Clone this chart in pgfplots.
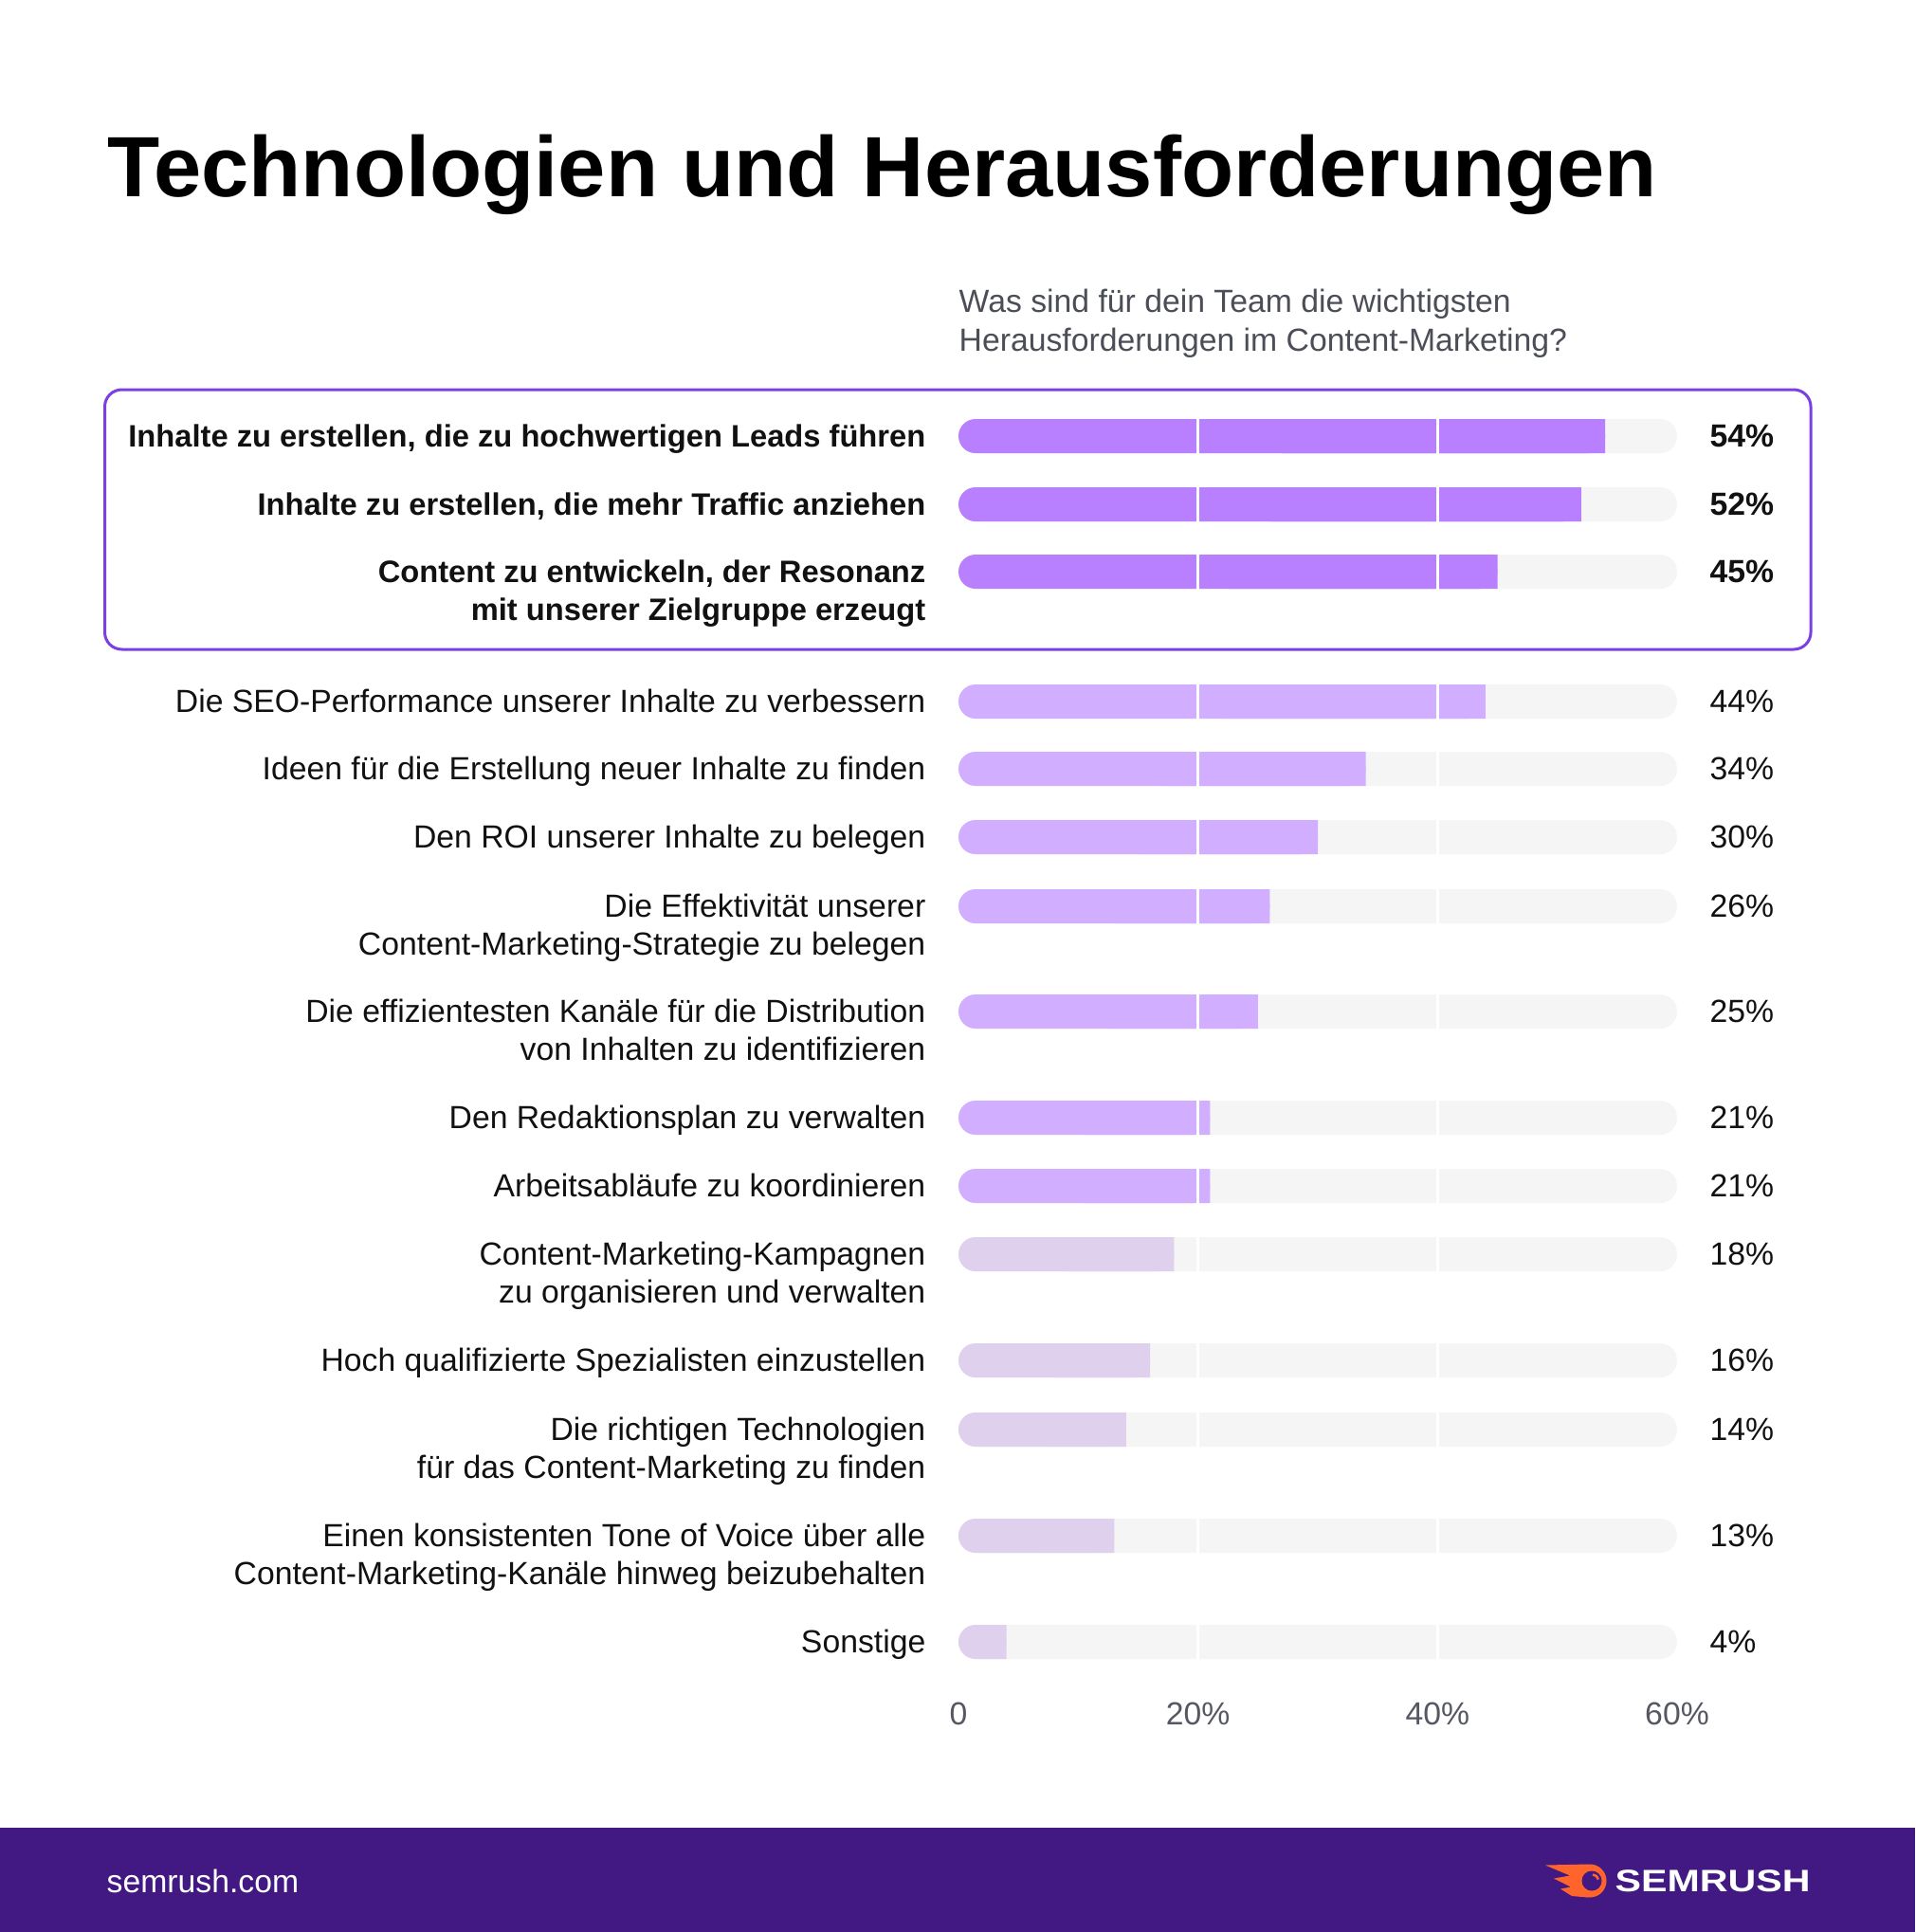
\documentclass[border=0pt]{standalone}
\usepackage{fontspec}
\setmainfont{Liberation Sans}
\usepackage{pgfplots}
\pgfplotsset{compat=1.18}
\usepackage{pgfplotstable}

\definecolor{barA}{HTML}{B880FF}
\definecolor{barB}{HTML}{D1AEFF}
\definecolor{barC}{HTML}{DFD0EE}
\definecolor{track}{HTML}{F4F5F4}
\definecolor{boxcol}{HTML}{7B3FE4}
\definecolor{footcol}{HTML}{421983}
\definecolor{labcol}{HTML}{111111}
\definecolor{subcol}{HTML}{4B4E57}
\definecolor{tickcol}{HTML}{555862}
\definecolor{logoorange}{HTML}{FF642D}

\pgfplotstableread{
pos v full
460 54 60
532 52 60
603 45 60
}\tabA
\pgfplotstableread{
pos v full
740 44 60
811 34 60
883 30 60
956 26 60
1067 25 60
1179 21 60
1251 21 60
}\tabB
\pgfplotstableread{
pos v full
1323 18 60
1435 16 60
1508 14 60
1620 13 60
1732 4 60
}\tabC
\pgfplotstableread{
pos h hA hB hC
460 27 27 0 0
532 26 26 0 0
603 22.5 22.5 0 0
740 22 0 22 0
811 17 0 17 0
883 15 0 15 0
956 13 0 13 0
1067 12.5 0 12.5 0
1179 10.5 0 10.5 0
1251 10.5 0 10.5 0
1323 9 0 0 9
1435 8 0 0 8
1508 7 0 0 7
1620 6.5 0 0 6.5
1732 2 0 0 2
}\tabS

\newcommand{\lab}[1]{\smash{\begin{tabular}[t]{@{}r@{}}#1\end{tabular}}}
\newcommand{\labfont}{\fontsize{9.6}{11.4}\selectfont}
\newcommand{\bl}[1]{{\fontsize{9.3}{11.4}\selectfont\bfseries #1}}

\pgfplotsset{
  base/.style={
    scale only axis, width=75.8mm, height=135mm,
    xmin=0, xmax=60, ymin=420, ymax=1770, y dir=reverse,
    at={(139mm,-109.5mm)}, anchor=center,
    axis line style={draw=none}, major tick length=0pt,
    clip=false, bar width=3.6mm,
  },
  pctlab/.style={
    nodes near coords={\pgfplotspointmeta\%},
    point meta=explicit symbolic,
    every node near coord/.append style={anchor=west, inner sep=0pt, xshift=3.4mm, text=labcol, font=\labfont#1},
  },
}

\begin{document}
\begin{tikzpicture}
\fill[white] (0,0) rectangle (202mm,-203.8mm);
\useasboundingbox (0,0) rectangle (202mm,-203.8mm);

\node[anchor=base west, inner sep=0pt] at (11.3mm,-20.8mm)
  {\fontsize{25.7}{30}\selectfont\bfseries Technologien und Herausforderungen};

\node[anchor=base west, inner sep=0pt, text=subcol, align=left] at (101.1mm,-33.0mm)
  {\labfont Was sind für dein Team die wichtigsten};
\node[anchor=base west, inner sep=0pt, text=subcol, align=left] at (101.1mm,-37.0mm)
  {\labfont Herausforderungen im Content-Marketing?};

\begin{axis}[base, xbar,
  every axis plot post/.append style={/pgf/bar shift=0pt},
  xtick={0,20,40,60},
  xticklabels={{\mbox{0}},{\mbox{20\%}},{\mbox{40\%}},{\mbox{60\%}}},
  xticklabel style={anchor=base, inner sep=0pt, yshift=-4.9mm, text=tickcol, font=\labfont},
  ytick={460,532,603,740,811,883,956,1067,1179,1251,1323,1435,1508,1620,1732},
  yticklabels={
    {\lab{\bl{Inhalte zu erstellen, die zu hochwertigen Leads führen}}},
    {\lab{\bl{Inhalte zu erstellen, die mehr Traffic anziehen}}},
    {\lab{\bl{Content zu entwickeln, der Resonanz}\\\bl{mit unserer Zielgruppe erzeugt}}},
    {\lab{Die SEO-Performance unserer Inhalte zu verbessern}},
    {\lab{Ideen für die Erstellung neuer Inhalte zu finden}},
    {\lab{Den ROI unserer Inhalte zu belegen}},
    {\lab{Die Effektivität unserer\\Content-Marketing-Strategie zu belegen}},
    {\lab{Die effizientesten Kanäle für die Distribution\\von Inhalten zu identifizieren}},
    {\lab{Den Redaktionsplan zu verwalten}},
    {\lab{Arbeitsabläufe zu koordinieren}},
    {\lab{Content-Marketing-Kampagnen\\zu organisieren und verwalten}},
    {\lab{Hoch qualifizierte Spezialisten einzustellen}},
    {\lab{Die richtigen Technologien\\für das Content-Marketing zu finden}},
    {\lab{Einen konsistenten Tone of Voice über alle\\Content-Marketing-Kanäle hinweg beizubehalten}},
    {\lab{Sonstige}}
  },
  yticklabel style={anchor=base east, inner sep=0pt, xshift=-3.4mm, yshift=-3.2pt, text=labcol, font=\labfont},
]
\addplot[fill=track, draw=none, rounded corners=1.8mm, pctlab=\bfseries] table[x=full, y=pos, meta=v] {\tabA};
\addplot[fill=track, draw=none, rounded corners=1.8mm, pctlab=] table[x=full, y=pos, meta=v] {\tabB};
\addplot[fill=track, draw=none, rounded corners=1.8mm, pctlab=] table[x=full, y=pos, meta=v] {\tabC};
\addplot[fill=barA, draw=none, rounded corners=1.8mm] table[x=v, y=pos] {\tabA};
\addplot[fill=barB, draw=none, rounded corners=1.8mm] table[x=v, y=pos] {\tabB};
\addplot[fill=barC, draw=none, rounded corners=1.8mm] table[x=v, y=pos] {\tabC};
\end{axis}

\begin{axis}[base, xbar stacked,
  every axis plot post/.append style={/pgf/bar shift=0pt},
  xtick=\empty, ytick=\empty,
  axis on top,
  extra x ticks={20,40}, extra x tick labels={},
  extra x tick style={grid=major, major grid style={draw=white, line width=0.25mm}},
]
\addplot[draw=none, fill=none] table[x=h, y=pos] {\tabS};
\addplot[fill=barA, draw=none] table[x=hA, y=pos] {\tabS};
\addplot[fill=barB, draw=none] table[x=hB, y=pos] {\tabS};
\addplot[fill=barC, draw=none] table[x=hC, y=pos] {\tabS};
\end{axis}

\draw[boxcol, line width=0.3mm, rounded corners=1.8mm] (11.05mm,-41.1mm) rectangle (191mm,-68.5mm);

% footer
\fill[footcol] (0,-192.8mm) rectangle (202mm,-203.8mm);
\node[anchor=west, inner sep=0pt, text=white] at (11.2mm,-198.4mm) {\labfont semrush.com};
\fill[logoorange] (163.0mm,-196.75mm) -- (167.5mm,-196.65mm) -- (167.5mm,-200.15mm) -- (165.8mm,-200.0mm) -- (164.6mm,-199.25mm) -- (165.7mm,-199.05mm) -- (163.9mm,-198.15mm) -- (165.6mm,-197.85mm) -- cycle;
\fill[logoorange] (167.7mm,-198.4mm) circle[radius=1.75mm];
\fill[footcol] (167.9mm,-198.4mm) circle[radius=1.05mm];
\draw[logoorange, line width=0.25mm] (168.0mm,-197.75mm) arc[start angle=90, end angle=10, radius=0.6mm];
\node[anchor=west, inner sep=0pt, text=white] at (170.3mm,-198.4mm) {\scalebox{1.26}[1]{\fontsize{9.3}{11}\selectfont\bfseries SEMRUSH}};
\end{tikzpicture}
\end{document}
